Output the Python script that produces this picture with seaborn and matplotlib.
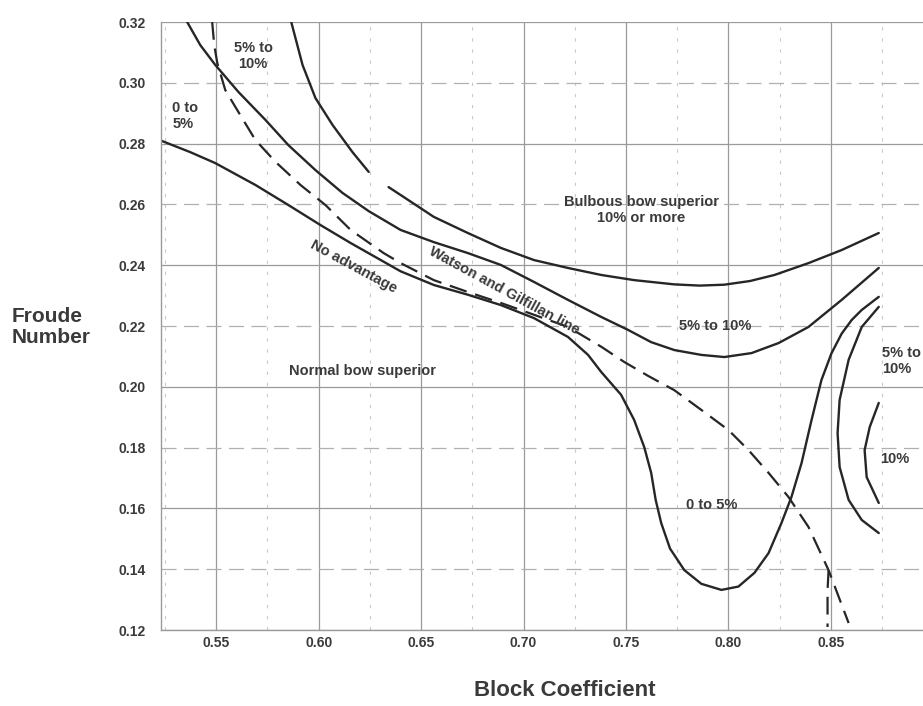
import matplotlib
matplotlib.use("Agg")
import matplotlib.pyplot as plt
import seaborn as sns
from matplotlib.ticker import MultipleLocator

sns.set_theme(style="white")
plt.rcParams['font.family'] = ['Liberation Sans', 'DejaVu Sans']

# Tick positions / labels
x_ticks = [0.55, 0.60, 0.65, 0.70, 0.75, 0.80, 0.85]
x_labels = ['0.55', '0.60', '0.65', '0.70', '0.75', '0.80', '0.85']
y_ticks = [0.12, 0.14, 0.16, 0.18, 0.20, 0.22, 0.24, 0.26, 0.28, 0.30, 0.32]
y_labels = ['0.12', '0.14', '0.16', '0.18', '0.20', '0.22', '0.24', '0.26', '0.28', '0.30', '0.32']

# Lower solid curve: "No advantage" boundary, dropping into the "0 to 5%" trough
cb_noadv = [0.523, 0.5373, 0.5495, 0.5691, 0.5852, 0.6009, 0.6156, 0.64, 0.6562,
            0.6728, 0.6889, 0.7051, 0.7217, 0.7315, 0.7379, 0.7476, 0.754, 0.7589,
            0.7623, 0.7645, 0.7672, 0.7715, 0.7785, 0.7868, 0.7966, 0.8049, 0.8127,
            0.8196, 0.8259, 0.8308, 0.8357, 0.8406, 0.8454, 0.8503, 0.8553, 0.8602,
            0.8651, 0.8734]
fn_noadv = [0.281, 0.2772, 0.2736, 0.2664, 0.2598, 0.2532, 0.2473, 0.238, 0.2335,
            0.2303, 0.2269, 0.2226, 0.2164, 0.2105, 0.2049, 0.1974, 0.1891, 0.1802,
            0.1717, 0.1628, 0.1552, 0.1468, 0.1397, 0.1352, 0.1332, 0.1343, 0.1388,
            0.1453, 0.1552, 0.1638, 0.1749, 0.1891, 0.2022, 0.211, 0.2175, 0.222,
            0.2253, 0.2296]

# Middle solid curve (5% to 10% boundary)
cb_mid = [0.5358, 0.5422, 0.5495, 0.5608, 0.574, 0.5852, 0.5984, 0.6116, 0.6244,
          0.64, 0.6562, 0.6728, 0.6889, 0.7051, 0.7217, 0.7379, 0.7511, 0.7623,
          0.7736, 0.7868, 0.798, 0.8113, 0.8245, 0.8391, 0.8553, 0.8734]
fn_mid = [0.32, 0.3124, 0.3059, 0.297, 0.2878, 0.2795, 0.2713, 0.2638, 0.2578,
          0.2516, 0.2476, 0.244, 0.2401, 0.2345, 0.2286, 0.223, 0.2187, 0.2147,
          0.2121, 0.2105, 0.2098, 0.2111, 0.2144, 0.2197, 0.2286, 0.2391]

# Upper solid curve (bulbous bow superior 10% or more), broken near 0.63
cb_up_a = [0.5866, 0.5921, 0.5984, 0.6068, 0.6165, 0.6244]
fn_up_a = [0.32, 0.3059, 0.295, 0.2861, 0.2772, 0.2707]
cb_up_b = [0.6341, 0.64, 0.6562, 0.6728, 0.6889, 0.7051, 0.7217, 0.7379, 0.754,
           0.7736, 0.786, 0.798, 0.8105, 0.8225, 0.8391, 0.8553, 0.8734]
fn_up_b = [0.2657, 0.2631, 0.2559, 0.2506, 0.2457, 0.2417, 0.2391, 0.2368, 0.2351,
           0.2337, 0.2333, 0.2336, 0.2348, 0.2368, 0.2407, 0.245, 0.2506]

# Watson and Gilfillan line (dashed)
cb_wg = [0.548, 0.549, 0.5505, 0.5544, 0.5617, 0.5691, 0.5789, 0.5911, 0.6033,
         0.6156, 0.6317, 0.64, 0.6562, 0.6728, 0.6889, 0.7051, 0.7217, 0.7379,
         0.7491, 0.7608, 0.7736, 0.7868, 0.8, 0.8098, 0.8196, 0.8293, 0.8391,
         0.8489, 0.8587]
fn_wg = [0.32, 0.3124, 0.3065, 0.2976, 0.2894, 0.2812, 0.274, 0.2664, 0.2598,
         0.2516, 0.244, 0.2407, 0.2351, 0.2312, 0.2276, 0.2237, 0.2197, 0.2132,
         0.2082, 0.2036, 0.1989, 0.1924, 0.1858, 0.1792, 0.1717, 0.1638, 0.1539,
         0.1397, 0.1223]
cb_wg2 = [0.8489, 0.8484, 0.8484]
fn_wg2 = [0.1397, 0.133, 0.121]

# Right-hand arcs
cb_arc1 = [0.8734, 0.8651, 0.8587, 0.8543, 0.8533, 0.8543, 0.8587, 0.8651, 0.8734]
fn_arc1 = [0.2263, 0.2197, 0.2089, 0.1957, 0.1848, 0.1736, 0.1628, 0.1562, 0.1519]
cb_arc2 = [0.8734, 0.869, 0.8665, 0.8675, 0.8734]
fn_arc2 = [0.1947, 0.1868, 0.1792, 0.1703, 0.1618]

line_color = '#262626'
text_color = '#3a3a3a'

fig = plt.figure(figsize=(9.23, 7.06), dpi=100)
ax = fig.add_axes([0.1744, 0.1076, 0.8256, 0.8612])

solid = [(cb_noadv, fn_noadv), (cb_mid, fn_mid), (cb_up_a, fn_up_a),
         (cb_up_b, fn_up_b), (cb_arc1, fn_arc1), (cb_arc2, fn_arc2)]
for xs, ys in solid:
    sns.lineplot(x=xs, y=ys, sort=False, estimator=None, color=line_color,
                 linewidth=1.7, ax=ax)

for xs, ys in [(cb_wg, fn_wg), (cb_wg2, fn_wg2)]:
    sns.lineplot(x=xs, y=ys, sort=False, estimator=None, color=line_color,
                 linewidth=1.6, ax=ax, linestyle=(0, (8, 4)))

ax.set_xlim(0.523, 0.895)
ax.set_ylim(0.12, 0.32)
ax.set_xticks(x_ticks, x_labels, fontsize=10, fontweight='bold', color=text_color)
ax.set_yticks(y_ticks, y_labels, fontsize=10, fontweight='bold', color=text_color)
ax.xaxis.set_minor_locator(MultipleLocator(0.025))

ax.grid(True, which='major', color='#9a9a9a', linewidth=0.9)
ax.grid(True, which='minor', axis='x', color='#c9c9c9', linewidth=0.8,
        linestyle=(0, (3, 7)))
# every other horizontal grid line is dashed and lighter
for i, gl in enumerate(ax.get_ygridlines()):
    if i % 2 == 1:
        gl.set_linestyle((0, (12, 6)))
        gl.set_color('#b0b0b0')

ax.tick_params(axis='x', which='both', length=0, pad=4)
ax.tick_params(axis='y', which='both', length=0, pad=11)
ax.set_xlabel('')
ax.set_ylabel('')
for s in ['top', 'right']:
    ax.spines[s].set_visible(False)
for s in ['left', 'bottom']:
    ax.spines[s].set_color('#9a9a9a')
    ax.spines[s].set_linewidth(1.0)

fs = 10.5
kw = dict(fontsize=fs, color=text_color, fontweight='bold')
ax.text(0.568, 0.3088, '5% to\n10%', ha='center', va='center', **kw)
ax.text(0.5285, 0.289, '0 to\n5%', ha='left', va='center', **kw)
ax.text(0.7574, 0.2582, 'Bulbous bow superior\n10% or more', ha='center',
        va='center', **kw)
ax.text(0.7937, 0.2200, '5% to 10%', ha='center', va='center', **kw)
ax.text(0.8749, 0.2085, '5% to\n10%', ha='left', va='center', **kw)
ax.text(0.8739, 0.1763, '10%', ha='left', va='center', **kw)
ax.text(0.7917, 0.1611, '0 to 5%', ha='center', va='center', **kw)
ax.text(0.6214, 0.2052, 'Normal bow superior', ha='center', va='center', **kw)
ax.text(0.617, 0.2394, 'No advantage', ha='center', va='center',
        rotation=-28.4, rotation_mode='anchor', **kw)
ax.text(0.6904, 0.2315, 'Watson and Gilfillan line', ha='center', va='center',
        rotation=-28.5, rotation_mode='anchor', **kw)

fig.text(12 / 923, 1 - 327 / 706, 'Froude\nNumber', ha='left', va='center',
         fontsize=15, fontweight='bold', color=text_color, linespacing=1.15)
fig.text(565 / 923, 1 - 690 / 706, 'Block Coefficient', ha='center', va='center',
         fontsize=16, fontweight='bold', color=text_color)

fig.savefig('out.png', dpi=100)
plt.close(fig)
